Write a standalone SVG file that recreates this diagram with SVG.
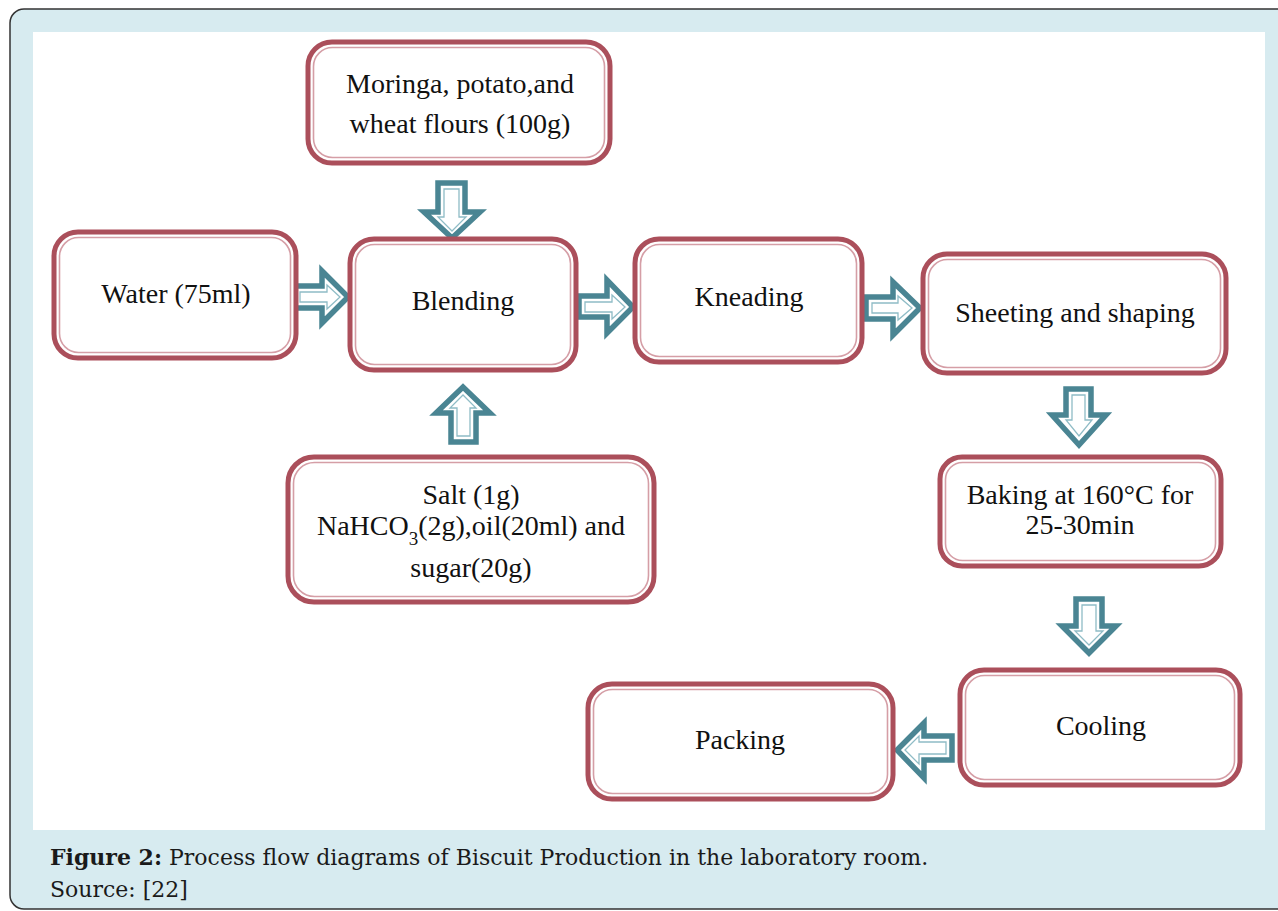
<svg xmlns="http://www.w3.org/2000/svg" width="1278" height="911" viewBox="0 0 1278 911">
<style>
.bo{fill:#fff;stroke:#ab4f5b;stroke-width:5}
.bi{fill:none;stroke:#d59ea6;stroke-width:1.6}
.t{font-family:"Liberation Serif","Times New Roman",serif;font-size:28px;fill:#111;text-anchor:middle}
.ao{fill:#fff;stroke:#4a8593;stroke-width:5.5;stroke-linejoin:miter}
.ai{fill:none;stroke:#8fbcc6;stroke-width:1.3}
.cap{font-family:"DejaVu Serif","Noto Serif",serif;font-size:22px;fill:#1a1a1a}
</style>
<rect x="10" y="9" width="1300" height="900" rx="14" fill="#d7ebf0" stroke="#333" stroke-width="1.5"/>
<rect x="33" y="32" width="1232" height="798" fill="#fff"/>

<g id="connectors">
  <path class="ao" d="M438,183 L465,183 L465,212 L480,212 L452,238 L424,212 L438,212 Z"/>
  <path class="ai" d="M444,189 L459,189 L459,217 L466,217 L452,231 L438,217 L444,217 Z"/>
  <path class="ao" d="M294,286 L322,286 L322,271 L348,297 L322,323 L322,308 L294,308 Z"/>
  <path class="ai" d="M300,292 L327,292 L327,285 L340,297 L327,309 L327,302 L300,302 Z"/>
  <path class="ao" d="M451,442 L476,442 L476,413 L490,413 L463,387 L436,413 L451,413 Z"/>
  <path class="ai" d="M457,436 L470,436 L470,408 L476,408 L463,395 L450,408 L457,408 Z"/>
  <path class="ao" d="M579,296 L607,296 L607,280 L633,307 L607,333 L607,317 L579,317 Z"/>
  <path class="ai" d="M585,302 L612,302 L612,295 L625,307 L612,319 L612,312 L585,312 Z"/>
  <path class="ao" d="M866,297 L893,297 L893,282 L920,308 L893,335 L893,319 L866,319 Z"/>
  <path class="ai" d="M872,303 L898,303 L898,296 L912,308 L898,320 L898,313 L872,313 Z"/>
  <path class="ao" d="M1066,389 L1091,389 L1091,415 L1106,415 L1079,445 L1052,415 L1066,415 Z"/>
  <path class="ai" d="M1072,395 L1085,395 L1085,420 L1092,420 L1079,436 L1066,420 L1072,420 Z"/>
  <path class="ao" d="M1076,599 L1102,599 L1102,626 L1116,626 L1089,653 L1062,626 L1076,626 Z"/>
  <path class="ai" d="M1082,605 L1096,605 L1096,631 L1103,631 L1089,645 L1075,631 L1082,631 Z"/>
  <path class="ao" d="M952,736 L924,736 L924,723 L897,750 L924,778 L924,760 L952,760 Z"/>
  <path class="ai" d="M946,742 L919,742 L919,736 L905,750 L919,764 L919,754 L946,754 Z"/>
</g>

<g id="moringa">
  <rect class="bo" x="308" y="42" width="302" height="121" rx="24"/>
  <rect class="bi" x="313.5" y="47.5" width="291" height="110" rx="19"/>
  <text class="t" x="460" y="93">Moringa, potato,and</text>
  <text class="t" x="460" y="133">wheat flours (100g)</text>
</g>
<g id="water">
  <rect class="bo" x="54" y="232" width="242" height="126" rx="24"/>
  <rect class="bi" x="59.5" y="237.5" width="231" height="115" rx="19"/>
  <text class="t" x="176" y="303">Water (75ml)</text>
</g>
<g id="blending">
  <rect class="bo" x="350" y="239" width="226" height="131" rx="24"/>
  <rect class="bi" x="355.5" y="244.5" width="215" height="120" rx="19"/>
  <text class="t" x="463" y="310">Blending</text>
</g>
<g id="kneading">
  <rect class="bo" x="635" y="239" width="227" height="123" rx="24"/>
  <rect class="bi" x="640.5" y="244.5" width="216" height="112" rx="19"/>
  <text class="t" x="749" y="306">Kneading</text>
</g>
<g id="sheeting">
  <rect class="bo" x="923" y="254" width="303" height="119" rx="24"/>
  <rect class="bi" x="928.5" y="259.5" width="292" height="108" rx="19"/>
  <text class="t" x="1075" y="322">Sheeting and shaping</text>
</g>
<g id="baking">
  <rect class="bo" x="940" y="457" width="281" height="109" rx="22"/>
  <rect class="bi" x="945.5" y="462.5" width="270" height="98" rx="17"/>
  <text class="t" x="1080" y="504">Baking at 160°C for</text>
  <text class="t" x="1080" y="534">25-30min</text>
</g>
<g id="salt">
  <rect class="bo" x="288" y="457" width="366" height="145" rx="26"/>
  <rect class="bi" x="293.5" y="462.5" width="355" height="134" rx="21"/>
  <text class="t" x="471" y="504">Salt (1g)</text>
  <text class="t" x="471" y="535">NaHCO<tspan font-size="19" dy="10">3</tspan><tspan dy="-10">(2g),oil(20ml) and</tspan></text>
  <text class="t" x="471" y="577">sugar(20g)</text>
</g>
<g id="cooling">
  <rect class="bo" x="960" y="670" width="280" height="115" rx="24"/>
  <rect class="bi" x="965.5" y="675.5" width="269" height="104" rx="19"/>
  <text class="t" x="1101" y="735">Cooling</text>
</g>
<g id="packing">
  <rect class="bo" x="588" y="684" width="305" height="115" rx="24"/>
  <rect class="bi" x="593.5" y="689.5" width="294" height="104" rx="19"/>
  <text class="t" x="740" y="749">Packing</text>
</g>

<text class="cap" x="50" y="865"><tspan font-weight="bold">Figure 2:</tspan> Process flow diagrams of Biscuit Production in the laboratory room.</text>
<text class="cap" x="50" y="897">Source: [22]</text>
</svg>
